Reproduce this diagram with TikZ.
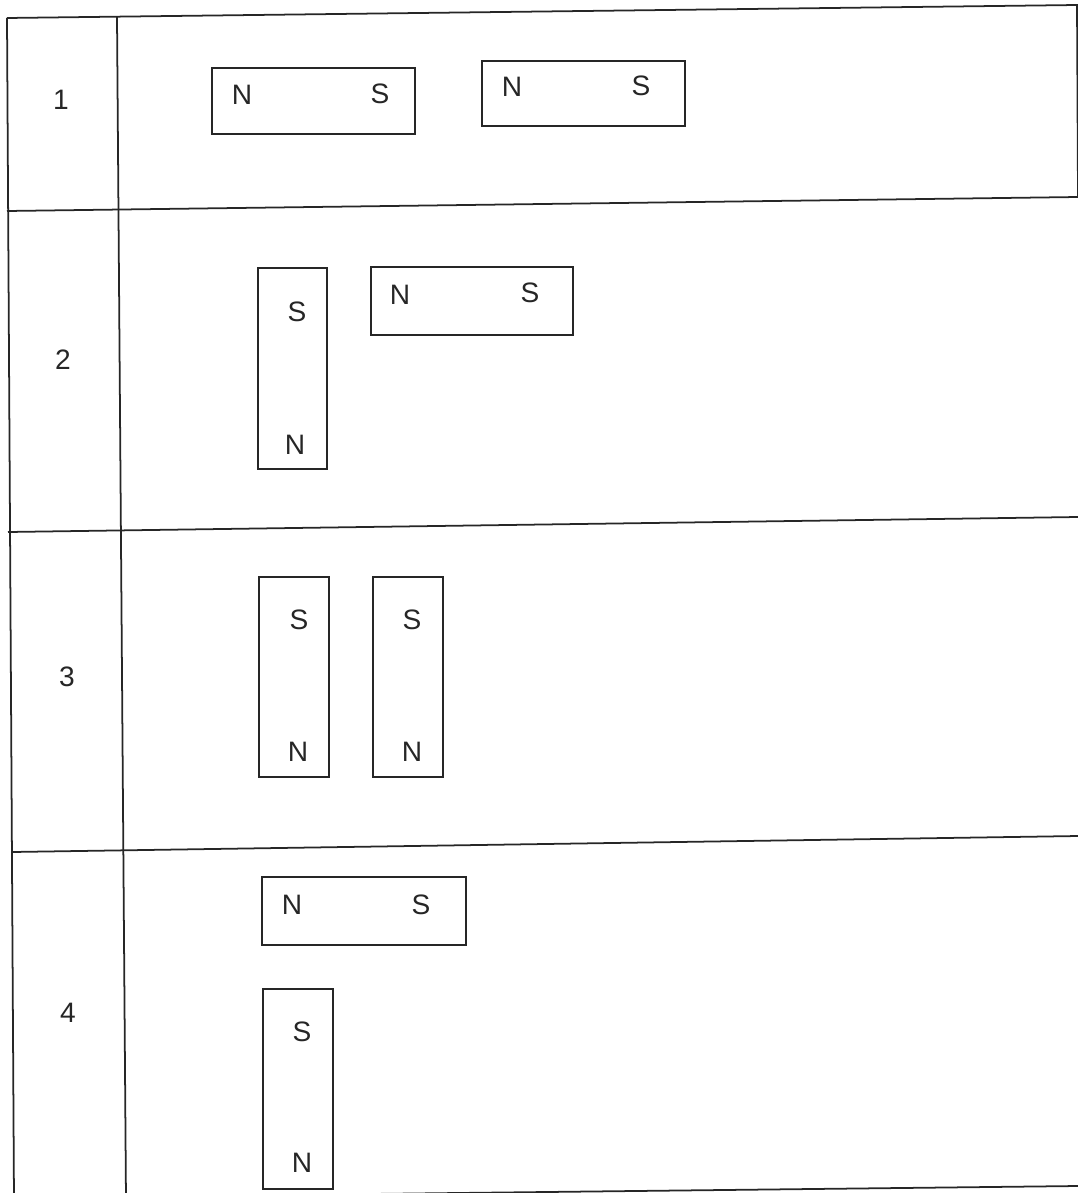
\documentclass[tikz,border=0pt]{standalone}
\usepackage{fontspec}
\setmainfont{Liberation Sans}
\begin{document}
\begin{tikzpicture}[x=0.02cm,y=-0.02cm,
  rule/.style={line width=1pt, draw=black!85},
  magnet/.style={draw=black!85, line width=0.8pt, inner sep=0pt, outer sep=0pt},
  pole/.style={font=\fontsize{16}{16}\selectfont, text=black!85, inner sep=0pt},
  rownum/.style={font=\fontsize{16}{16}\selectfont, text=black!85, inner sep=0pt}]
\useasboundingbox (0,0) rectangle (1078,1193);
\clip (0,0) rectangle (1078,1193);
% table frame
\coordinate (tl) at (7,18);
\coordinate (tr) at (1077,5);
\coordinate (rr) at (1078,197);
\coordinate (lb) at (14,1200);
\coordinate (dt) at (117,17);
\coordinate (db) at (126,1200);
\coordinate (r1l) at (7,211);
\coordinate (r1r) at (1078,197);
\coordinate (r2l) at (8,532);
\coordinate (r2r) at (1078,517);
\coordinate (r3l) at (12,852);
\coordinate (r3r) at (1078,836);
\coordinate (bl) at (14,1198);
\coordinate (br) at (1078,1186);
\draw[rule] (tl) -- (tr) -- (rr);
\draw[rule] (tl) -- (lb);
\draw[rule] (dt) -- (db);
\draw[rule] (r1l) -- (r1r);
\draw[rule] (r2l) -- (r2r);
\draw[rule] (r3l) -- (r3r);
\draw[rule] (bl) -- (br);
% row numbers
\node[rownum] (n1) at (61,100) {1};
\node[rownum] (n2) at (63,360) {2};
\node[rownum] (n3) at (67,677) {3};
\node[rownum] (n4) at (68,1013) {4};
% row 1
\node[magnet, minimum width=4.06cm, minimum height=1.32cm] (m1a) at (313.5,101) {};
\node[pole] (m1aN) at (242,95) {N};
\node[pole] (m1aS) at (380,94) {S};
\node[magnet, minimum width=4.06cm, minimum height=1.30cm] (m1b) at (583.5,93.5) {};
\node[pole] (m1bN) at (512,87) {N};
\node[pole] (m1bS) at (641,86) {S};
% row 2
\node[magnet, minimum width=1.38cm, minimum height=4.02cm] (m2a) at (292.5,368.5) {};
\node[pole] (m2aS) at (297,312) {S};
\node[pole] (m2aN) at (295,445) {N};
\node[magnet, minimum width=4.04cm, minimum height=1.36cm] (m2b) at (472,301) {};
\node[pole] (m2bN) at (400,295) {N};
\node[pole] (m2bS) at (530,293) {S};
% row 3
\node[magnet, minimum width=1.40cm, minimum height=4.00cm] (m3a) at (294,677) {};
\node[pole] (m3aS) at (299,620) {S};
\node[pole] (m3aN) at (298,752) {N};
\node[magnet, minimum width=1.40cm, minimum height=4.00cm] (m3b) at (408,677) {};
\node[pole] (m3bS) at (412,620) {S};
\node[pole] (m3bN) at (412,752) {N};
% row 4
\node[magnet, minimum width=4.08cm, minimum height=1.36cm] (m4a) at (364,911) {};
\node[pole] (m4aN) at (292,905) {N};
\node[pole] (m4aS) at (421,905) {S};
\node[magnet, minimum width=1.40cm, minimum height=4.00cm] (m4b) at (298,1089) {};
\node[pole] (m4bS) at (302,1032) {S};
\node[pole] (m4bN) at (302,1163) {N};
\end{tikzpicture}
\end{document}
